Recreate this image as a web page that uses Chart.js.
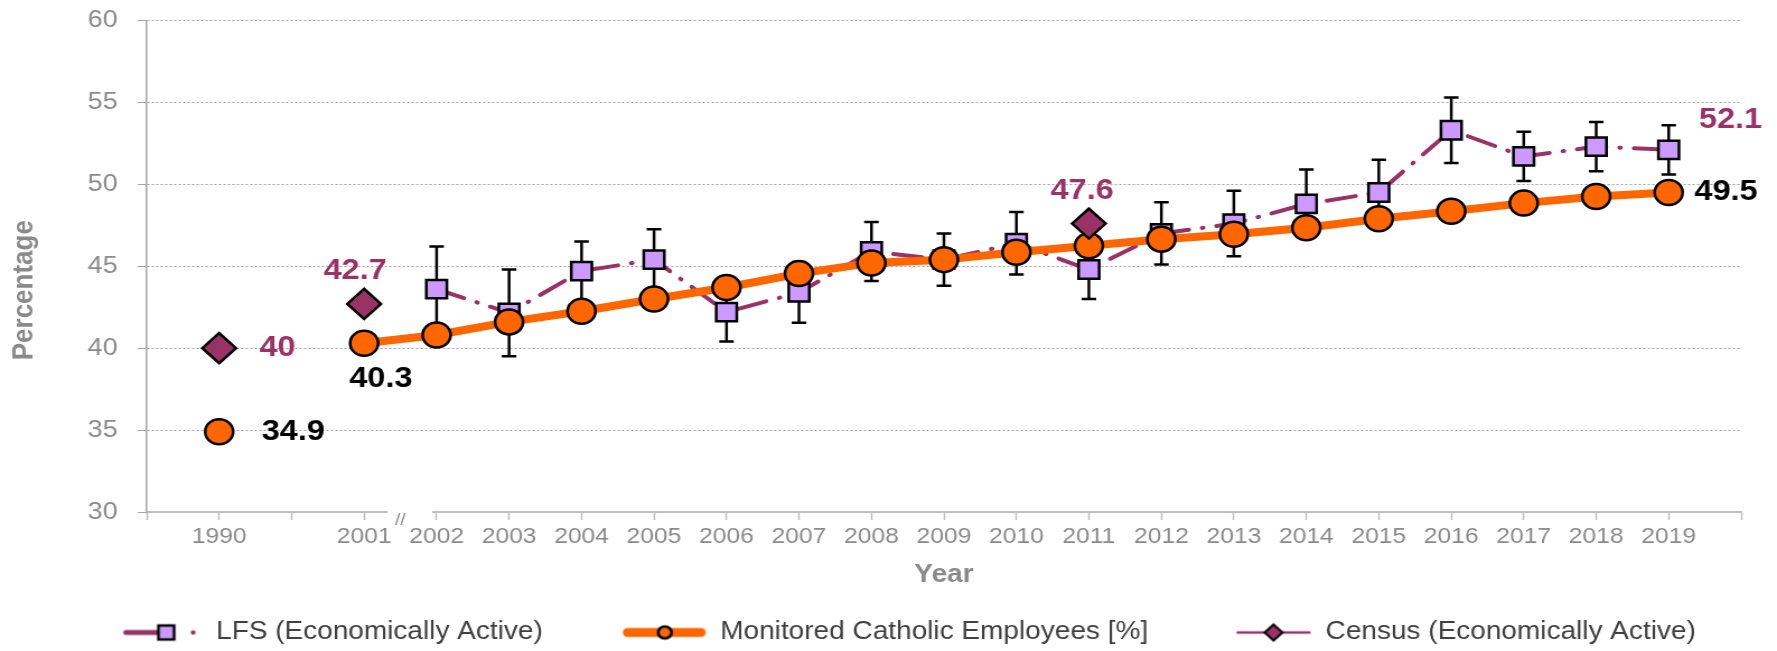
<!DOCTYPE html>
<html>
<head>
<meta charset="utf-8">
<script src="https://cdn.jsdelivr.net/npm/chart.js@4.4.1/dist/chart.umd.min.js"></script>
<style>
  html, body { margin: 0; padding: 0; background: #fff; }
</style>
</head>
<body>
<!-- the reference is a slightly wide-stretched picture, so the canvas is drawn narrower and stretched -->
<canvas id="chart" width="1587" height="651" style="display:block;width:1777px;height:651px"></canvas>
<script>
const years = ['1990', '', '2001', '2002', '2003', '2004', '2005', '2006', '2007', '2008', '2009',
  '2010', '2011', '2012', '2013', '2014', '2015', '2016', '2017', '2018', '2019'];

const monitored = [34.9, null, 40.3, 40.8, 41.6, 42.25, 43.0, 43.7, 44.55, 45.2, 45.4,
  45.85, 46.25, 46.65, 46.95, 47.35, 47.9, 48.35, 48.85, 49.25, 49.5];

const lfs = [null, null, null, 43.6, 42.15, 44.7, 45.4, 42.2, 43.4, 45.9, 45.4,
  46.4, 44.8, 47.0, 47.6, 48.8, 49.5, 53.3, 51.7, 52.3, 52.1];

const lfsError = [null, null, null, 2.6, 2.65, 1.8, 1.85, 1.8, 1.85, 1.8, 1.6,
  1.9, 1.8, 1.9, 2.0, 2.1, 2.0, 2.0, 1.5, 1.5, 1.5];

const census = [40, null, 42.7, null, null, null, null, null, null, null, null,
  null, 47.6, null, null, null, null, null, null, null, null];

const yTicks = [30, 35, 40, 45, 50, 55, 60];

const MAROON = '#993366';
const LILAC = '#CC99FF';
const ORANGE = '#FF6600';
const GREY = '#8a8a8a';
const FONT = '"Liberation Sans", Arial, sans-serif';

Chart.defaults.font.family = FONT;

// blank slot at each end so the axis has a tick before 1990 and after 2019
const labels = ['', ...years, ''];
const pad = arr => [null, ...arr, null];

// which values get a printed label, and where it sits next to its marker
const valueLabels = [
  { set: 2, year: '1990', color: MAROON, align: 'left', dx: 36, dy: 0 },
  { set: 2, year: '2001', color: MAROON, align: 'center', dx: -8, dy: -33 },
  { set: 2, year: '2011', color: MAROON, align: 'center', dx: -6, dy: -33 },
  { set: 0, year: '2019', color: MAROON, align: 'left', dx: 27, dy: -30 },
  { set: 1, year: '1990', color: '#000', align: 'left', dx: 38, dy: 0 },
  { set: 1, year: '2001', color: '#000', align: 'center', dx: 15, dy: 36 },
  { set: 1, year: '2019', color: '#000', align: 'left', dx: 23, dy: 0 },
];

// legend swatches: blank margin on the left, then line + marker
function legendIcon(draw) {
  const c = document.createElement('canvas');
  c.width = 136;
  c.height = 28;
  const g = c.getContext('2d');
  g.lineCap = 'round';
  draw(g, 14);
  return c;
}

const icons = [
  legendIcon((g, cy) => {
    g.strokeStyle = MAROON; g.lineWidth = 5;
    g.beginPath(); g.moveTo(68, cy); g.lineTo(96, cy); g.stroke();
    g.fillStyle = LILAC; g.strokeStyle = '#000'; g.lineWidth = 2.5;
    g.fillRect(97, cy - 7, 14, 14); g.strokeRect(97, cy - 7, 14, 14);
    g.fillStyle = MAROON;
    g.beginPath(); g.arc(128, cy, 2.2, 0, Math.PI * 2); g.fill();
  }),
  legendIcon((g, cy) => {
    g.strokeStyle = ORANGE; g.lineWidth = 9;
    g.beginPath(); g.moveTo(66, cy); g.lineTo(131, cy); g.stroke();
    g.fillStyle = ORANGE; g.strokeStyle = '#000'; g.lineWidth = 2.5;
    g.beginPath(); g.arc(99, cy, 6, 0, Math.PI * 2); g.fill(); g.stroke();
  }),
  legendIcon((g, cy) => {
    g.strokeStyle = MAROON; g.lineWidth = 2.5;
    g.beginPath(); g.moveTo(70, cy); g.lineTo(134, cy); g.stroke();
    g.fillStyle = MAROON; g.strokeStyle = '#000'; g.lineWidth = 2;
    g.beginPath();
    g.moveTo(102, cy - 8); g.lineTo(110, cy); g.lineTo(102, cy + 8); g.lineTo(94, cy);
    g.closePath(); g.fill(); g.stroke();
  }),
];

const errorBars = {
  id: 'errorBars',
  beforeDatasetsDraw(chart) {
    const { ctx, scales: { x, y } } = chart;
    ctx.save();
    ctx.strokeStyle = '#000';
    ctx.lineWidth = 2.5;
    lfsError.forEach((e, i) => {
      if (e == null || lfs[i] == null) return;
      const px = x.getPixelForValue(i + 1);
      const top = y.getPixelForValue(lfs[i] + e);
      const bot = y.getPixelForValue(lfs[i] - e);
      ctx.beginPath();
      ctx.moveTo(px, top); ctx.lineTo(px, bot);
      ctx.moveTo(px - 6.5, top); ctx.lineTo(px + 6.5, top);
      ctx.moveTo(px - 6.5, bot); ctx.lineTo(px + 6.5, bot);
      ctx.stroke();
    });
    ctx.restore();
  }
};

const dataLabels = {
  id: 'dataLabels',
  afterDatasetsDraw(chart) {
    const { ctx, scales: { x, y } } = chart;
    ctx.save();
    ctx.font = 'bold 29px ' + FONT;
    ctx.textBaseline = 'middle';
    valueLabels.forEach(l => {
      const i = years.indexOf(l.year);
      const v = chart.data.datasets[l.set].data[i + 1];
      if (v == null) return;
      ctx.fillStyle = l.color;
      ctx.textAlign = l.align;
      ctx.fillText(String(v), x.getPixelForValue(i + 1) + l.dx, y.getPixelForValue(v) + l.dy);
    });
    ctx.restore();
  }
};

// axis break between 2001 and 2002, and the y title (it sits a bit below the axis middle)
const axisDecor = {
  id: 'axisDecor',
  afterDraw(chart) {
    const { ctx, chartArea, scales: { x } } = chart;
    const a = x.getPixelForValue(years.indexOf('2001') + 1);
    const b = x.getPixelForValue(years.indexOf('2002') + 1);
    ctx.save();
    ctx.fillStyle = '#fff';
    ctx.fillRect(a + 21, x.top - 3, b - a - 25, 6);
    ctx.fillStyle = GREY;
    ctx.font = '17px ' + FONT;
    ctx.textAlign = 'center';
    ctx.textBaseline = 'middle';
    ctx.fillText('//', (a + b) / 2, x.top + 8);

    ctx.translate(22, (chartArea.top + chartArea.bottom) / 2 + 24);
    ctx.rotate(-Math.PI / 2);
    ctx.font = 'bold 26px ' + FONT;
    ctx.fillText('Percentage', 0, 0);
    ctx.restore();
  }
};

new Chart(document.getElementById('chart'), {
  type: 'line',
  data: {
    labels,
    datasets: [{
      label: 'LFS (Economically Active)',
      data: pad(lfs),
      borderColor: MAROON,
      borderWidth: 4,
      borderDash: [26, 12, 1, 12],
      borderCapStyle: 'round',
      pointStyle: 'rect',
      pointRadius: 13,
      pointBackgroundColor: LILAC,
      pointBorderColor: '#000',
      pointBorderWidth: 2.5,
      order: 3,
    }, {
      label: 'Monitored Catholic Employees [%]',
      data: pad(monitored),
      borderColor: ORANGE,
      borderWidth: 8,
      borderJoinStyle: 'round',
      pointStyle: 'circle',
      pointRadius: 12.5,
      pointBackgroundColor: ORANGE,
      pointBorderColor: '#000',
      pointBorderWidth: 2.5,
      order: 2,
    }, {
      label: 'Census (Economically Active)',
      data: pad(census),
      showLine: false,
      borderColor: MAROON,
      pointStyle: 'rectRot',
      pointRadius: 15,
      pointBackgroundColor: MAROON,
      pointBorderColor: '#000',
      pointBorderWidth: 2.5,
      order: 1,
    }]
  },
  options: {
    responsive: false,
    devicePixelRatio: 1,
    animation: false,
    events: [],
    layout: { autoPadding: false, padding: { left: 4, right: 32, top: 20, bottom: -4 } },
    scales: {
      x: {
        type: 'category',
        offset: false,
        grid: { drawOnChartArea: false, drawTicks: true, tickLength: 8, tickColor: '#bfbfbf', tickWidth: 1.5 },
        border: { color: '#bfbfbf', width: 2 },
        ticks: { autoSkip: false, maxRotation: 0, color: GREY, font: { size: 22 }, padding: 4 },
        title: { display: true, text: 'Year', color: GREY, font: { size: 25, weight: 'bold' }, padding: { top: 4, bottom: 20 } },
        afterFit(scale) { scale.height = 98; },
      },
      y: {
        min: yTicks[0],
        max: yTicks[yTicks.length - 1],
        afterBuildTicks(scale) { scale.ticks = yTicks.map(v => ({ value: v })); },
        // small line height keeps the label overflow from pushing the plot down
        ticks: { color: GREY, font: { size: 24, lineHeight: 0.2 }, padding: 18 },
        grid: { color: '#a3a3a3', lineWidth: 1, tickLength: 8, tickColor: '#a6a6a6', tickBorderDash: [] },
        border: { color: '#a6a6a6', width: 1.5, dash: [2, 2] },
        afterFit(scale) { scale.width = 127; },
      }
    },
    plugins: {
      tooltip: { enabled: false },
      legend: {
        position: 'bottom',
        labels: {
          usePointStyle: true,
          pointStyleWidth: 136,
          boxHeight: 25,
          padding: 10,
          color: '#404040',
          font: { size: 25 },
          generateLabels: chart => chart.data.datasets.map((ds, i) => ({
            text: ds.label,
            pointStyle: icons[i],
            datasetIndex: i,
            fontColor: '#404040',
            lineWidth: 0,
            hidden: false,
          })),
        }
      }
    }
  },
  plugins: [errorBars, dataLabels, axisDecor]
});
</script>
</body>
</html>
